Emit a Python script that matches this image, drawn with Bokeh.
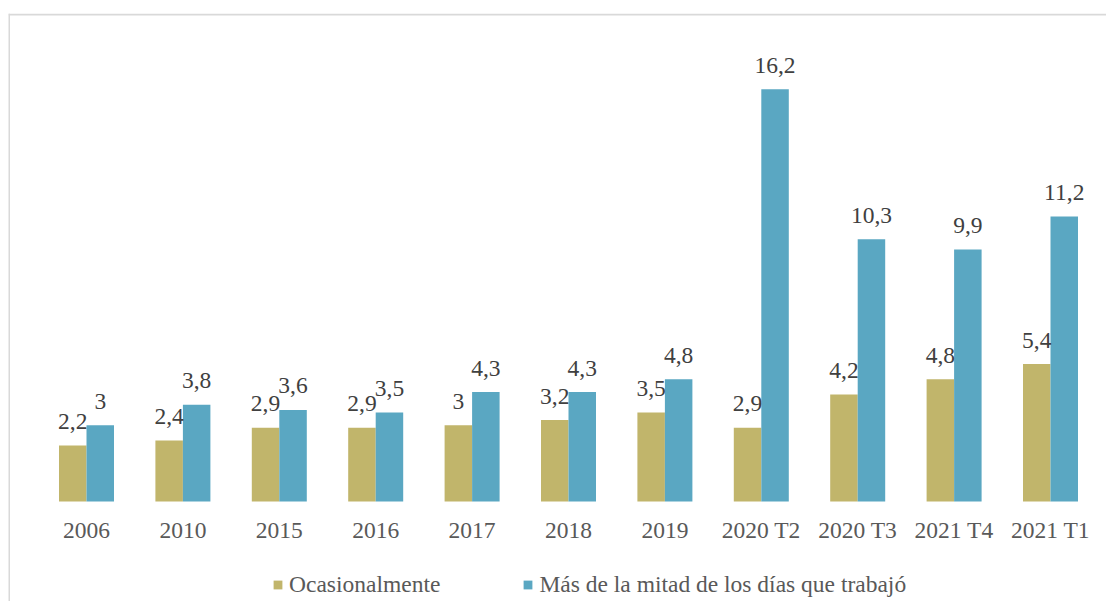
from bokeh.plotting import figure
from bokeh.models import Range1d, Span, Legend, LegendItem, ColumnDataSource
from bokeh.core.properties import value
from bokeh.embed import file_html
from bokeh.resources import INLINE

categories = ["2006", "2010", "2015", "2016", "2017", "2018", "2019",
              "2020 T2", "2020 T3", "2021 T4", "2021 T1"]
ocasional = [2.2, 2.4, 2.9, 2.9, 3.0, 3.2, 3.5, 2.9, 4.2, 4.8, 5.4]
mas_mitad = [3.0, 3.8, 3.6, 3.5, 4.3, 4.3, 4.8, 16.2, 10.3, 9.9, 11.2]
series_names = ["Ocasionalmente", "Más de la mitad de los días que trabajó"]

GOLD = "#C1B56B"
BLUE = "#5AA7C2"
FONT = "Liberation Serif"
FS = "23.5px"

ppu_y = 25.45
ppu_x = 96.4
FW, FH = 1098, 588
x0 = -78 / ppu_x
x1 = x0 + FW / ppu_x
y1 = 488 / ppu_y
y0 = -(FH - 488) / ppu_y

def fmt(v):
    s = ("%.1f" % v).rstrip("0").rstrip(".")
    return s.replace(".", ",")

idx = list(range(len(categories)))
bw = 27.5 / ppu_x
src = ColumnDataSource(dict(
    xg=[i - bw / 2 for i in idx],
    xb=[i + bw / 2 for i in idx],
    xc=idx,
    og=ocasional,
    mb=mas_mitad,
    lg=[fmt(v) for v in ocasional],
    lb=[fmt(v) for v in mas_mitad],
    yg=[v + 24 / ppu_y for v in ocasional],
    yb=[v + 24 / ppu_y for v in mas_mitad],
    cat=categories,
    ycat=[-28.5 / ppu_y] * len(categories),
))

p = figure(width=1106, height=601, x_range=Range1d(x0, x1), y_range=Range1d(y0, y1),
           output_backend="svg", toolbar_location=None,
           x_axis_location=None, y_axis_location=None,
           min_border_left=8, min_border_right=0, min_border_top=13, min_border_bottom=0)
p.xgrid.visible = False
p.ygrid.visible = False
p.outline_line_color = None
p.background_fill_color = "white"
p.border_fill_color = "white"

rg = p.vbar(x="xg", top="og", bottom=0, width=bw, source=src, fill_color=GOLD, line_color=None)
rb = p.vbar(x="xb", top="mb", bottom=0, width=bw, source=src, fill_color=BLUE, line_color=None)

p.text(x="xg", y="yg", text="lg", source=src, text_font=value(FONT), text_font_size=FS,
       text_color="#404040", text_align="center", text_baseline="middle")
p.text(x="xb", y="yb", text="lb", source=src, text_font=value(FONT), text_font_size=FS,
       text_color="#404040", text_align="center", text_baseline="middle")
p.text(x="xc", y="ycat", text="cat", source=src, text_font=value(FONT), text_font_size=FS,
       text_color="#595959", text_align="center", text_baseline="middle")

p.add_layout(Span(location=y1 - 1 / ppu_y, dimension="width", line_color="#d9d9d9", line_width=2))
p.add_layout(Span(location=x0 + 0.5 / ppu_x, dimension="height", line_color="#d9d9d9", line_width=2))

legend = Legend(items=[LegendItem(label=series_names[0], renderers=[rg]),
                       LegendItem(label=series_names[1], renderers=[rb])],
                orientation="horizontal", location=(264, 3),
                label_text_font=FONT, label_text_font_size=FS, label_text_color="#595959",
                glyph_width=11, glyph_height=11, label_standoff=6, spacing=82,
                padding=0, margin=0, border_line_color=None, background_fill_alpha=0)
p.add_layout(legend)

open("out.html", "w").write(file_html(p, INLINE))
